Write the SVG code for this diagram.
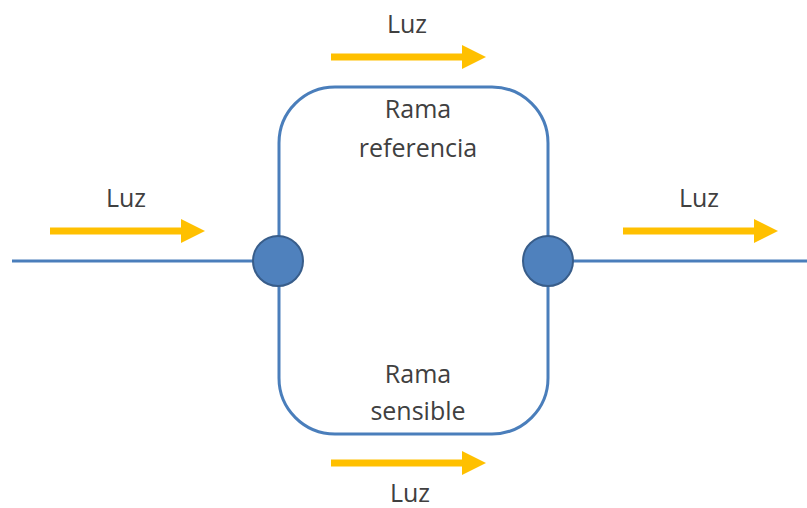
<svg xmlns="http://www.w3.org/2000/svg" width="807" height="508" viewBox="0 0 807 508">
<style>
.wire{fill:none;stroke:#4a7ebb;stroke-width:3}
.node{fill:#4f81bd;stroke:#385d8a;stroke-width:2}
.light{fill:none;stroke:#ffc000;stroke-width:7}
.head{fill:#ffc000}
.lbl{font-family:"Open Sans","Liberation Sans",sans-serif;font-size:25px;fill:#404040;text-anchor:middle}
</style>
<rect width="807" height="508" fill="#ffffff"/>
<g id="connectors">
<line class="wire" x1="12" y1="261" x2="278" y2="261"/>
<line class="wire" x1="548" y1="261" x2="807" y2="261"/>
<rect class="wire" x="279" y="87" width="269" height="347" rx="56" ry="56"/>
</g>
<g id="arrow-top">
<line class="light" x1="331" y1="57" x2="465" y2="57"/>
<polygon class="head" points="462,45 486,57 462,69"/>
<text class="lbl" x="407" y="33">Luz</text>
</g>
<g id="arrow-left">
<line class="light" x1="50" y1="231" x2="184" y2="231"/>
<polygon class="head" points="181,219 205,231 181,243"/>
<text class="lbl" x="126" y="207">Luz</text>
</g>
<g id="arrow-right">
<line class="light" x1="623" y1="231" x2="757" y2="231"/>
<polygon class="head" points="754,219 778,231 754,243"/>
<text class="lbl" x="699" y="207">Luz</text>
</g>
<g id="arrow-bottom">
<line class="light" x1="331" y1="463" x2="465" y2="463"/>
<polygon class="head" points="462,451 486,463 462,475"/>
<text class="lbl" x="410" y="502">Luz</text>
</g>
<g id="rama-referencia">
<text class="lbl" x="418" y="118">Rama</text>
<text class="lbl" x="418" y="157">referencia</text>
</g>
<g id="rama-sensible">
<text class="lbl" x="418" y="383">Rama</text>
<text class="lbl" x="418" y="420">sensible</text>
</g>
<g id="node-left"><circle class="node" cx="278" cy="261" r="25"/></g>
<g id="node-right"><circle class="node" cx="548" cy="261" r="25"/></g>
</svg>
